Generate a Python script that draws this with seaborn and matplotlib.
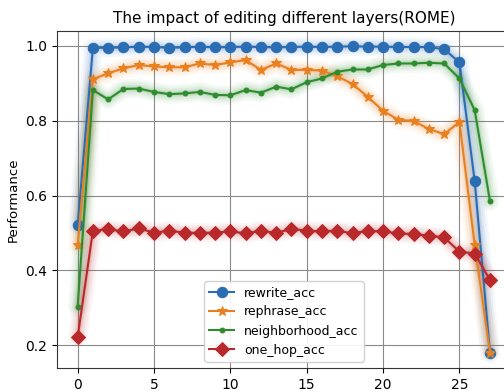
import numpy as np
import pandas as pd
import matplotlib
matplotlib.use("Agg")
import matplotlib.pyplot as plt
import seaborn as sns

layers = list(range(28))

rewrite_acc = [0.52, 0.995, 0.995, 0.996, 0.998, 0.997, 0.995, 0.996, 0.998, 0.996,
               0.997, 0.998, 0.997, 0.996, 0.997, 0.998, 0.997, 0.998, 0.999, 0.998,
               0.998, 0.997, 0.997, 0.997, 0.991, 0.956, 0.638, 0.18]
rephrase_acc = [0.468, 0.911, 0.927, 0.940, 0.949, 0.945, 0.943, 0.943, 0.953, 0.949,
                0.956, 0.962, 0.936, 0.953, 0.936, 0.936, 0.934, 0.919, 0.898, 0.864,
                0.826, 0.803, 0.799, 0.778, 0.764, 0.797, 0.468, 0.18]
neighborhood_acc = [0.302, 0.882, 0.857, 0.885, 0.886, 0.877, 0.871, 0.873, 0.877, 0.869,
                    0.868, 0.882, 0.875, 0.891, 0.884, 0.903, 0.913, 0.931, 0.937, 0.937,
                    0.949, 0.953, 0.953, 0.955, 0.953, 0.913, 0.828, 0.585]
one_hop_acc = [0.221, 0.506, 0.510, 0.504, 0.512, 0.501, 0.506, 0.501, 0.500, 0.501,
               0.504, 0.499, 0.506, 0.500, 0.511, 0.506, 0.504, 0.506, 0.499, 0.506,
               0.504, 0.499, 0.497, 0.493, 0.488, 0.450, 0.445, 0.374]

series = [
    ("rewrite_acc", rewrite_acc, "#2a6db3", "o", 7.5),
    ("rephrase_acc", rephrase_acc, "#e8801f", "*", 7),
    ("neighborhood_acc", neighborhood_acc, "#2e8b2e", ".", 7),
    ("one_hop_acc", one_hop_acc, "#b9282a", "D", 7),
]

fig = plt.figure(figsize=(5.04, 3.91), dpi=100)
ax = fig.add_axes([0.1131, 0.0588, 0.900, 0.862])

for name, vals, color, marker, ms in series:
    df = pd.DataFrame({"layer": layers, "value": vals})
    # soft halo behind each line
    for lw, a in [(14, 0.04), (11, 0.05), (8, 0.07), (5, 0.09), (3, 0.1)]:
        ax.plot(df["layer"], df["value"], color=color, lw=lw, alpha=a,
                solid_capstyle="round", solid_joinstyle="round", zorder=1)
    sns.lineplot(data=df, x="layer", y="value", ax=ax, color=color, marker=marker,
                 markersize=ms, markeredgecolor=color, linewidth=1.5, label=name,
                 zorder=3)

ax.set_xlabel("")
ax.set_ylabel("Performance", fontsize=9.5)
ax.set_title("The impact of editing different layers(ROME)", fontsize=11)
ax.set_xticks([0, 5, 10, 15, 20, 25])
ax.set_yticks([0.2, 0.4, 0.6, 0.8, 1.0])
ax.grid(True, color="#8a8a8a", linewidth=0.8)
ax.set_axisbelow(True)
for s in ax.spines.values():
    s.set_color("#333333")
ax.legend(loc="lower center", fontsize=9, framealpha=0.9)

fig.savefig("out.png", dpi=100)
